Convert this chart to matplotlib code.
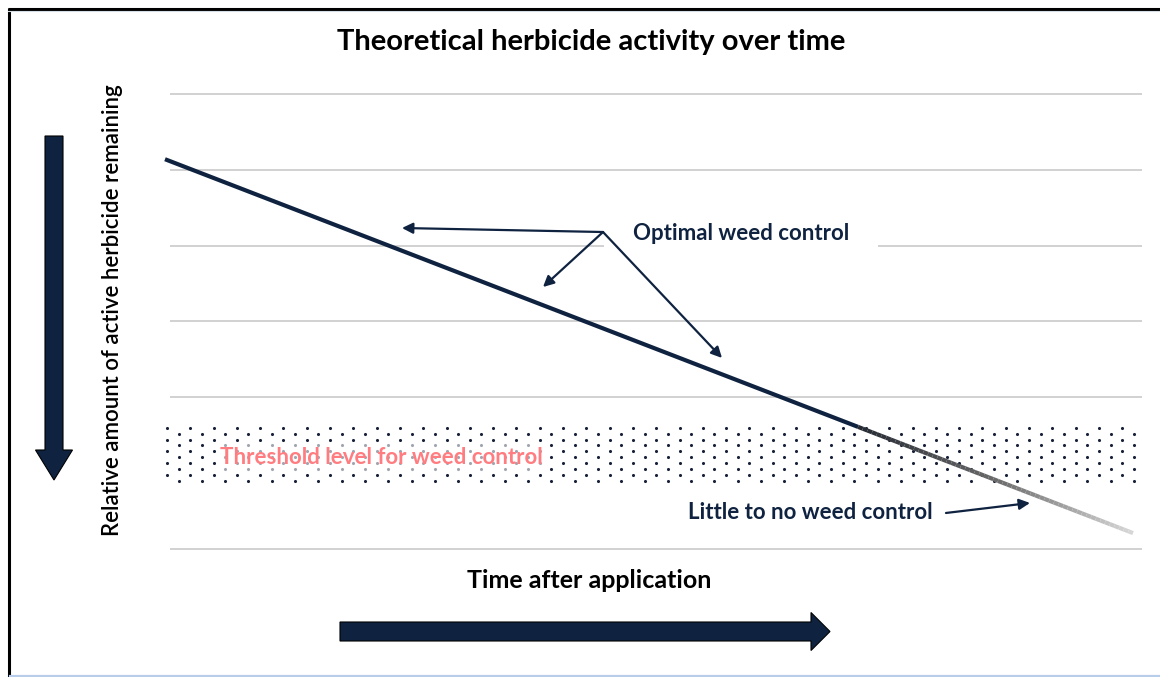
import numpy as np
import matplotlib
matplotlib.use('Agg')
import matplotlib.pyplot as plt
from matplotlib.collections import LineCollection
from matplotlib.patches import FancyArrow, Rectangle
from matplotlib.colors import LinearSegmentedColormap

plt.rcParams['font.family'] = ['Lato', 'DejaVu Sans']

NAVY = '#0f2341'
GRID = '#c9c9c9'
PINK = '#ff7c80'

# herbicide activity: straight decline from application to end of window
time = [0, 100]
activity = [5.14, 0.21]
grid_levels = [0, 1, 2, 3, 4, 5, 6]
threshold_low, threshold_high = 0.857, 1.61

title = 'Theoretical herbicide activity over time'
ylabel = 'Relative amount of active herbicide remaining'
xlabel = 'Time after application'

W, H = 1160, 677
fig = plt.figure(figsize=(W / 100, H / 100), dpi=100)
fig.patch.set_facecolor('white')

# pixel-space layer for frame, titles and block arrows
deco = fig.add_axes([0, 0, 1, 1], zorder=0)
deco.set_xlim(0, W)
deco.set_ylim(H, 0)
deco.axis('off')

deco.plot([8.5, 8.5], [8, H], color='black', lw=2.2, solid_capstyle='butt')
deco.plot([8, W], [8.5, 8.5], color='black', lw=2.2, solid_capstyle='butt')
deco.plot([8, W], [10.8, 10.8], color='#d5dde6', lw=0.8)
deco.plot([10, W], [675.5, 675.5], color='#b7cde9', lw=1.6)

deco.add_patch(FancyArrow(54, 136, 0, 344, width=18, head_width=37,
                          head_length=30, length_includes_head=True,
                          facecolor=NAVY, edgecolor='black', lw=0.8))
deco.add_patch(FancyArrow(340, 631.5, 490, 0, width=19, head_width=38,
                          head_length=19, length_includes_head=True,
                          facecolor=NAVY, edgecolor='black', lw=0.8))

deco.text(591, 42, title, ha='center', va='center', fontsize=21,
          fontweight='bold', color='black')
deco.text(113, 310, ylabel, ha='center', va='center', rotation=90,
          fontsize=16, fontweight='semibold', color='black')
deco.text(589, 580, xlabel, ha='center', va='center', fontsize=18,
          fontweight='bold', color='black')

# main chart area
px_per_x = 9.68
left_px, right_px = 160, 1145
top_px, bottom_px = 84, 560
ax = fig.add_axes([left_px / W, 1 - bottom_px / H,
                   (right_px - left_px) / W, (bottom_px - top_px) / H],
                  zorder=1)
ax.patch.set_alpha(0)
ax.set_xlim(-(165 - left_px) / px_per_x, 100 + (right_px - 1133) / px_per_x)
ax.set_ylim(-(bottom_px - 549) / 75.83, 6 + (94 - top_px) / 75.83)
ax.axis('off')

ax.hlines(grid_levels, 0.52, 100.9, color=GRID, lw=1.2, zorder=1)

# threshold band with dot texture
ax.add_patch(Rectangle((-0.2, threshold_low), 101.2,
                       threshold_high - threshold_low,
                       facecolor='white', edgecolor='none', zorder=2))
row_ys = np.arange(threshold_high - 0.012, threshold_low, -0.0774)
dx = 23.3 / px_per_x
for i, yy in enumerate(row_ys):
    xs = np.arange(0.2 + (dx / 2 if i % 2 else 0), 101.0, dx)
    ax.scatter(xs, np.full_like(xs, yy), s=5.0, color='#17213a',
               linewidths=0, zorder=3)

# decline line: navy above threshold, fading grey below it
slope = (activity[1] - activity[0]) / (time[1] - time[0])
t_cross = time[0] + (threshold_high - activity[0]) / slope
ax.plot([time[0], t_cross], [activity[0], threshold_high], color=NAVY,
        lw=3.0, solid_capstyle='butt', zorder=4)
tt = np.linspace(t_cross, time[1], 60)
yy = activity[0] + slope * (tt - time[0])
segs = np.stack([np.column_stack([tt[:-1], yy[:-1]]),
                 np.column_stack([tt[1:], yy[1:]])], axis=1)
fade = LinearSegmentedColormap.from_list('fade', ['#262b33', '#6a6a6a',
                                                  '#d6d6d6'])
lc = LineCollection(segs, colors=fade(np.linspace(0, 1, len(segs))),
                    lw=3.0, zorder=4, capstyle='butt')
ax.add_collection(lc)

ax.text(5.68, 1.213, 'Threshold level for weed control', ha='left',
        va='center', fontsize=16, fontweight='bold', color=PINK, zorder=5,
        bbox=dict(boxstyle='square,pad=0.15', facecolor='white',
                  edgecolor='none', alpha=0.6))

ax.text(48.3, 4.167, 'Optimal weed control', ha='left', va='center',
        fontsize=16, fontweight='bold', color=NAVY, zorder=5,
        bbox=dict(boxstyle='square,pad=1.3', facecolor='white',
                  edgecolor='none'))

src = (45.25, 4.18)
for target in [(24.48, 4.233), (39.05, 3.455), (57.54, 2.519)]:
    ax.annotate('', xy=target, xytext=src, zorder=6,
                arrowprops=dict(arrowstyle='-|>', color=NAVY, lw=1.6,
                                mutation_scale=16, shrinkA=0, shrinkB=0))

ax.text(54.0, 0.475, 'Little to no weed control', ha='left', va='center',
        fontsize=16, fontweight='bold', color=NAVY, zorder=5)
ax.annotate('', xy=(89.36, 0.607), xytext=(80.68, 0.475), zorder=6,
            arrowprops=dict(arrowstyle='-|>', color=NAVY, lw=1.6,
                            mutation_scale=16, shrinkA=0, shrinkB=0))

fig.savefig('out.png', dpi=100, facecolor='white')
